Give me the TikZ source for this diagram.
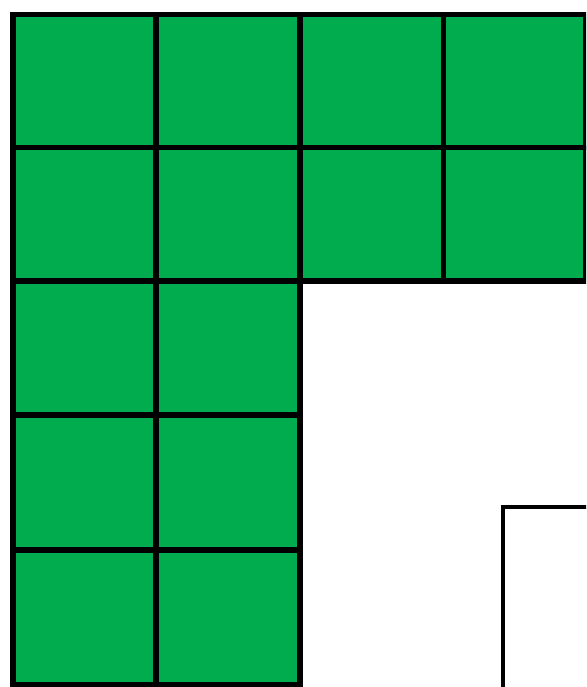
\documentclass[tikz,border=0pt]{standalone}
\definecolor{tilegreen}{HTML}{00AC4E}
\tikzset{
  tile/.style={draw=black, fill=tilegreen, line width=2.6pt, line join=miter},
  frame/.style={draw=black, line width=1.6pt, line join=miter}
}
\begin{document}
\begin{tikzpicture}[x=0.5pt, y=-0.5pt]
\useasboundingbox (0,0) rectangle (586,687);
\clip (0,0) rectangle (586,687);
\fill[white] (0,0) rectangle (586,687);
% top two rows, four columns
\foreach \xa/\xb in {13/156, 156/300, 300/443.5, 443.5/585.5}{
  \foreach \ya/\yb in {14.5/147.5, 147.5/281}{
    \path[tile] (\xa,\ya) rectangle (\xb,\yb);
  }
}
% lower three rows, two columns
\foreach \xa/\xb in {13/156, 156/300}{
  \foreach \ya/\yb in {281/415, 415/550, 550/685}{
    \path[tile] (\xa,\ya) rectangle (\xb,\yb);
  }
}
% outline at bottom right
\path[frame] (503,720) -- (503,507) -- (620,507);
\end{tikzpicture}
\end{document}
